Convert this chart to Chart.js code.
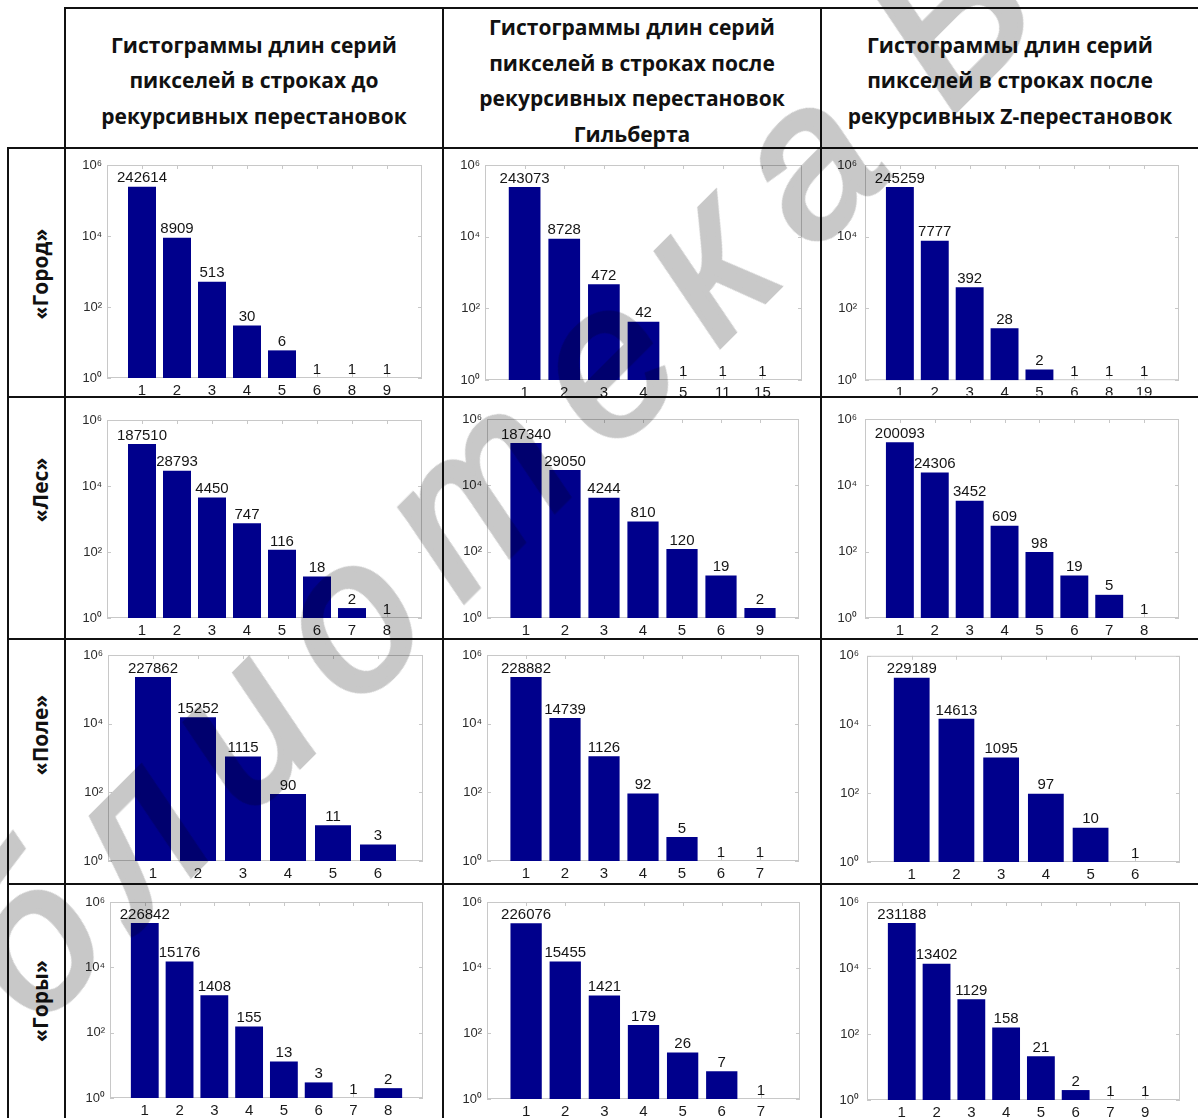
<!DOCTYPE html>
<html lang="ru">
<head>
<meta charset="utf-8">
<title>Гистограммы длин серий пикселей</title>
<script src="https://cdn.jsdelivr.net/npm/chart.js@4.4.1/dist/chart.umd.min.js"></script>
<style>
  html, body { margin: 0; padding: 0; background: #fff; }
  #page { position: relative; width: 1198px; height: 1118px; overflow: hidden; background: #fff; }
  .rule { position: absolute; background: #111; }
  .head {
    position: absolute; box-sizing: border-box; padding-top: 6px;
    display: flex; align-items: center; justify-content: center; text-align: center;
    font: 700 21px/35.5px "Open Sans", sans-serif; color: #111;
  }
  .rowname {
    position: absolute; white-space: nowrap;
    font: 700 21px "Open Sans", sans-serif; color: #111;
    transform: translate(-50%, -50%) rotate(-90deg);
  }
  canvas { position: absolute; }
  #watermark {
    position: absolute; left: -194px; top: 1083px; white-space: nowrap;
    font: italic 210px/1 "Liberation Sans", Arial, sans-serif;
    letter-spacing: 35px; word-spacing: -50px;
    color: rgb(200, 200, 200); -webkit-text-stroke: 6px rgb(200, 200, 200);
    transform: rotate(-45deg); transform-origin: 0 178px;
    mix-blend-mode: multiply; pointer-events: none;
  }
</style>
</head>
<body>
<div id="page"></div>
<script>
  // column headings and row names
  const colTitles = [
    ['Гистограммы длин серий', 'пикселей в строках до', 'рекурсивных перестановок'],
    ['Гистограммы длин серий', 'пикселей в строках после', 'рекурсивных перестановок', 'Гильберта'],
    ['Гистограммы длин серий', 'пикселей в строках после', 'рекурсивных Z-перестановок']
  ];
  const rowNames = ['«Город»', '«Лес»', '«Поле»', '«Горы»'];

  // run lengths (x labels) and counts, per image and ordering
  const gorodIshRuns = ['1', '2', '3', '4', '5', '6', '8', '9'];
  const gorodIsh = [242614, 8909, 513, 30, 6, 1, 1, 1];
  const gorodHilbertRuns = ['1', '2', '3', '4', '5', '11', '15'];
  const gorodHilbert = [243073, 8728, 472, 42, 1, 1, 1];
  const gorodZRuns = ['1', '2', '3', '4', '5', '6', '8', '19'];
  const gorodZ = [245259, 7777, 392, 28, 2, 1, 1, 1];

  const lesIshRuns = ['1', '2', '3', '4', '5', '6', '7', '8'];
  const lesIsh = [187510, 28793, 4450, 747, 116, 18, 2, 1];
  const lesHilbertRuns = ['1', '2', '3', '4', '5', '6', '9'];
  const lesHilbert = [187340, 29050, 4244, 810, 120, 19, 2];
  const lesZRuns = ['1', '2', '3', '4', '5', '6', '7', '8'];
  const lesZ = [200093, 24306, 3452, 609, 98, 19, 5, 1];

  const poleIshRuns = ['1', '2', '3', '4', '5', '6'];
  const poleIsh = [227862, 15252, 1115, 90, 11, 3];
  const poleHilbertRuns = ['1', '2', '3', '4', '5', '6', '7'];
  const poleHilbert = [228882, 14739, 1126, 92, 5, 1, 1];
  const poleZRuns = ['1', '2', '3', '4', '5', '6'];
  const poleZ = [229189, 14613, 1095, 97, 10, 1];

  const goryIshRuns = ['1', '2', '3', '4', '5', '6', '7', '8'];
  const goryIsh = [226842, 15176, 1408, 155, 13, 3, 1, 2];
  const goryHilbertRuns = ['1', '2', '3', '4', '5', '6', '7'];
  const goryHilbert = [226076, 15455, 1421, 179, 26, 7, 1];
  const goryZRuns = ['1', '2', '3', '4', '5', '6', '7', '9'];
  const goryZ = [231188, 13402, 1129, 158, 21, 2, 1, 1];

  const yTickValues = [1, 1e2, 1e4, 1e6];
  const superscripts = { 0: '⁰', 2: '²', 4: '⁴', 6: '⁶' };

  // table geometry
  const colEdges = [65, 443, 821, 1199];
  const rowEdges = [148, 397, 639, 884, 1130];
  const rowNameCenters = [274, 490, 735, 1001];

  // plot rectangles [left, top, right, bottom] in page pixels
  const plotRects = [
    [[107, 165, 422, 378], [485, 165, 802, 380], [865, 165, 1179, 381]],
    [[107, 420, 422, 618], [487, 419, 799, 618], [865, 419, 1179, 618]],
    [[108, 655, 423, 861], [487, 655, 799, 861], [867, 655, 1180, 862]],
    [[110, 902, 423, 1098], [487, 902, 800, 1099], [867, 902, 1180, 1100]]
  ];

  const histograms = [
    [[gorodIsh, gorodIshRuns], [gorodHilbert, gorodHilbertRuns], [gorodZ, gorodZRuns]],
    [[lesIsh, lesIshRuns], [lesHilbert, lesHilbertRuns], [lesZ, lesZRuns]],
    [[poleIsh, poleIshRuns], [poleHilbert, poleHilbertRuns], [poleZ, poleZRuns]],
    [[goryIsh, goryIshRuns], [goryHilbert, goryHilbertRuns], [goryZ, goryZRuns]]
  ];

  const BAR_COLOR = 'rgb(0, 0, 140)';
  const NUM_FONT = '"Liberation Sans", Arial, sans-serif';
  const page = document.getElementById('page');

  function rule(x, y, w, h) {
    const d = document.createElement('div');
    d.className = 'rule';
    Object.assign(d.style, { left: x + 'px', top: y + 'px', width: w + 'px', height: h + 'px' });
    page.appendChild(d);
  }

  // borders
  rule(colEdges[0] - 1, 7, 1200, 2);
  rowEdges.slice(0, 4).forEach((y) => rule(7, y - 1, 1200, 2));
  rule(7, rowEdges[0] - 1, 2, 1000);
  colEdges.slice(0, 3).forEach((x) => rule(x - 1, 7, 2, 1200));

  colTitles.forEach((lines, c) => {
    const d = document.createElement('div');
    d.className = 'head';
    Object.assign(d.style, { left: colEdges[c] + 'px', top: '8px', width: (colEdges[c + 1] - colEdges[c]) + 'px', height: '140px' });
    d.innerHTML = lines.join('<br>');
    page.appendChild(d);
  });

  rowNames.forEach((name, r) => {
    const d = document.createElement('div');
    d.className = 'rowname';
    d.textContent = name;
    Object.assign(d.style, { left: '40px', top: rowNameCenters[r] + 'px' });
    page.appendChild(d);
  });

  const plotFrame = {
    id: 'plotFrame',
    beforeDatasetsDraw(chart) {
      const { ctx, chartArea: a, scales: { x, y } } = chart;
      const n = chart.data.datasets[0].data.length;
      ctx.save();
      ctx.strokeStyle = '#c8c8c8';
      ctx.lineWidth = 1;
      ctx.strokeRect(a.left + 0.5, a.top + 0.5, a.right - a.left - 1, a.bottom - a.top - 1);
      ctx.beginPath();
      y.ticks.forEach((t) => {
        const py = Math.round(y.getPixelForValue(t.value)) + 0.5;
        ctx.moveTo(a.left, py); ctx.lineTo(a.left + 4, py);
        ctx.moveTo(a.right - 4, py); ctx.lineTo(a.right, py);
      });
      x.ticks.forEach((t) => {
        if (t.value < 1 || t.value > n) return;
        const px = Math.round(x.getPixelForValue(t.value)) + 0.5;
        ctx.moveTo(px, a.top); ctx.lineTo(px, a.top + 4);
        ctx.moveTo(px, a.bottom); ctx.lineTo(px, a.bottom - 4);
      });
      ctx.stroke();
      ctx.restore();
    }
  };

  const valueLabels = {
    id: 'valueLabels',
    afterDatasetsDraw(chart) {
      const { ctx } = chart;
      const points = chart.data.datasets[0].data;
      ctx.save();
      ctx.font = '15px ' + NUM_FONT;
      ctx.fillStyle = '#151515';
      ctx.textAlign = 'center';
      ctx.textBaseline = 'bottom';
      chart.getDatasetMeta(0).data.forEach((bar, i) => {
        ctx.fillText(String(points[i].y), bar.x, bar.y - 1);
      });
      ctx.restore();
    }
  };

  function drawHistogram(r, c) {
    const [counts, runs] = histograms[r][c];
    const [pl, pt, pr, pb] = plotRects[r][c];
    const cl = colEdges[c] + 1, cr = colEdges[c + 1] - 1;
    const ct = rowEdges[r] + 1, cb = Math.min(rowEdges[r + 1] - 1, 1118);
    const canvas = document.createElement('canvas');
    canvas.width = cr - cl;
    canvas.height = cb - ct;
    Object.assign(canvas.style, { left: cl + 'px', top: ct + 'px' });
    page.appendChild(canvas);

    new Chart(canvas, {
      type: 'bar',
      data: {
        datasets: [{
          data: counts.map((v, i) => ({ x: i + 1, y: v })),
          backgroundColor: BAR_COLOR,
          borderWidth: 0,
          barPercentage: 0.8,
          categoryPercentage: 1
        }]
      },
      options: {
        responsive: false,
        animation: false,
        devicePixelRatio: 1,
        layout: { padding: { top: pt - ct, right: cr - pr, left: 0, bottom: 0 } },
        plugins: { legend: { display: false }, tooltip: { enabled: false } },
        scales: {
          x: {
            type: 'linear',
            min: 0,
            max: counts.length + 1,
            offset: false,
            grid: { display: false, drawTicks: false, offset: false },
            border: { display: false },
            ticks: {
              stepSize: 1,
              autoSkip: false,
              maxRotation: 0,
              padding: 4,
              color: '#1a1a1a',
              font: { family: NUM_FONT, size: 15 },
              callback: (v) => runs[v - 1] ?? ''
            },
            afterFit: (s) => { s.height = cb - pb; }
          },
          y: {
            type: 'logarithmic',
            min: 1,
            max: 1e6,
            grid: { display: false, drawTicks: false },
            border: { display: false },
            afterBuildTicks: (s) => { s.ticks = yTickValues.map((value) => ({ value })); },
            ticks: {
              padding: c === 2 ? 8 : 5,
              color: '#2a2a2a',
              font: { family: NUM_FONT, size: 13 },
              callback: (v) => '10' + superscripts[Math.round(Math.log10(v))]
            },
            afterFit: (s) => { s.width = pl - cl; }
          }
        }
      },
      plugins: [plotFrame, valueLabels]
    });
  }

  for (let r = 0; r < 4; r += 1) {
    for (let c = 0; c < 3; c += 1) drawHistogram(r, c);
  }

  const mark = document.createElement('div');
  mark.id = 'watermark';
  mark.textContent = 'Библиотека БГУИР';
  page.appendChild(mark);
</script>
</body>
</html>
